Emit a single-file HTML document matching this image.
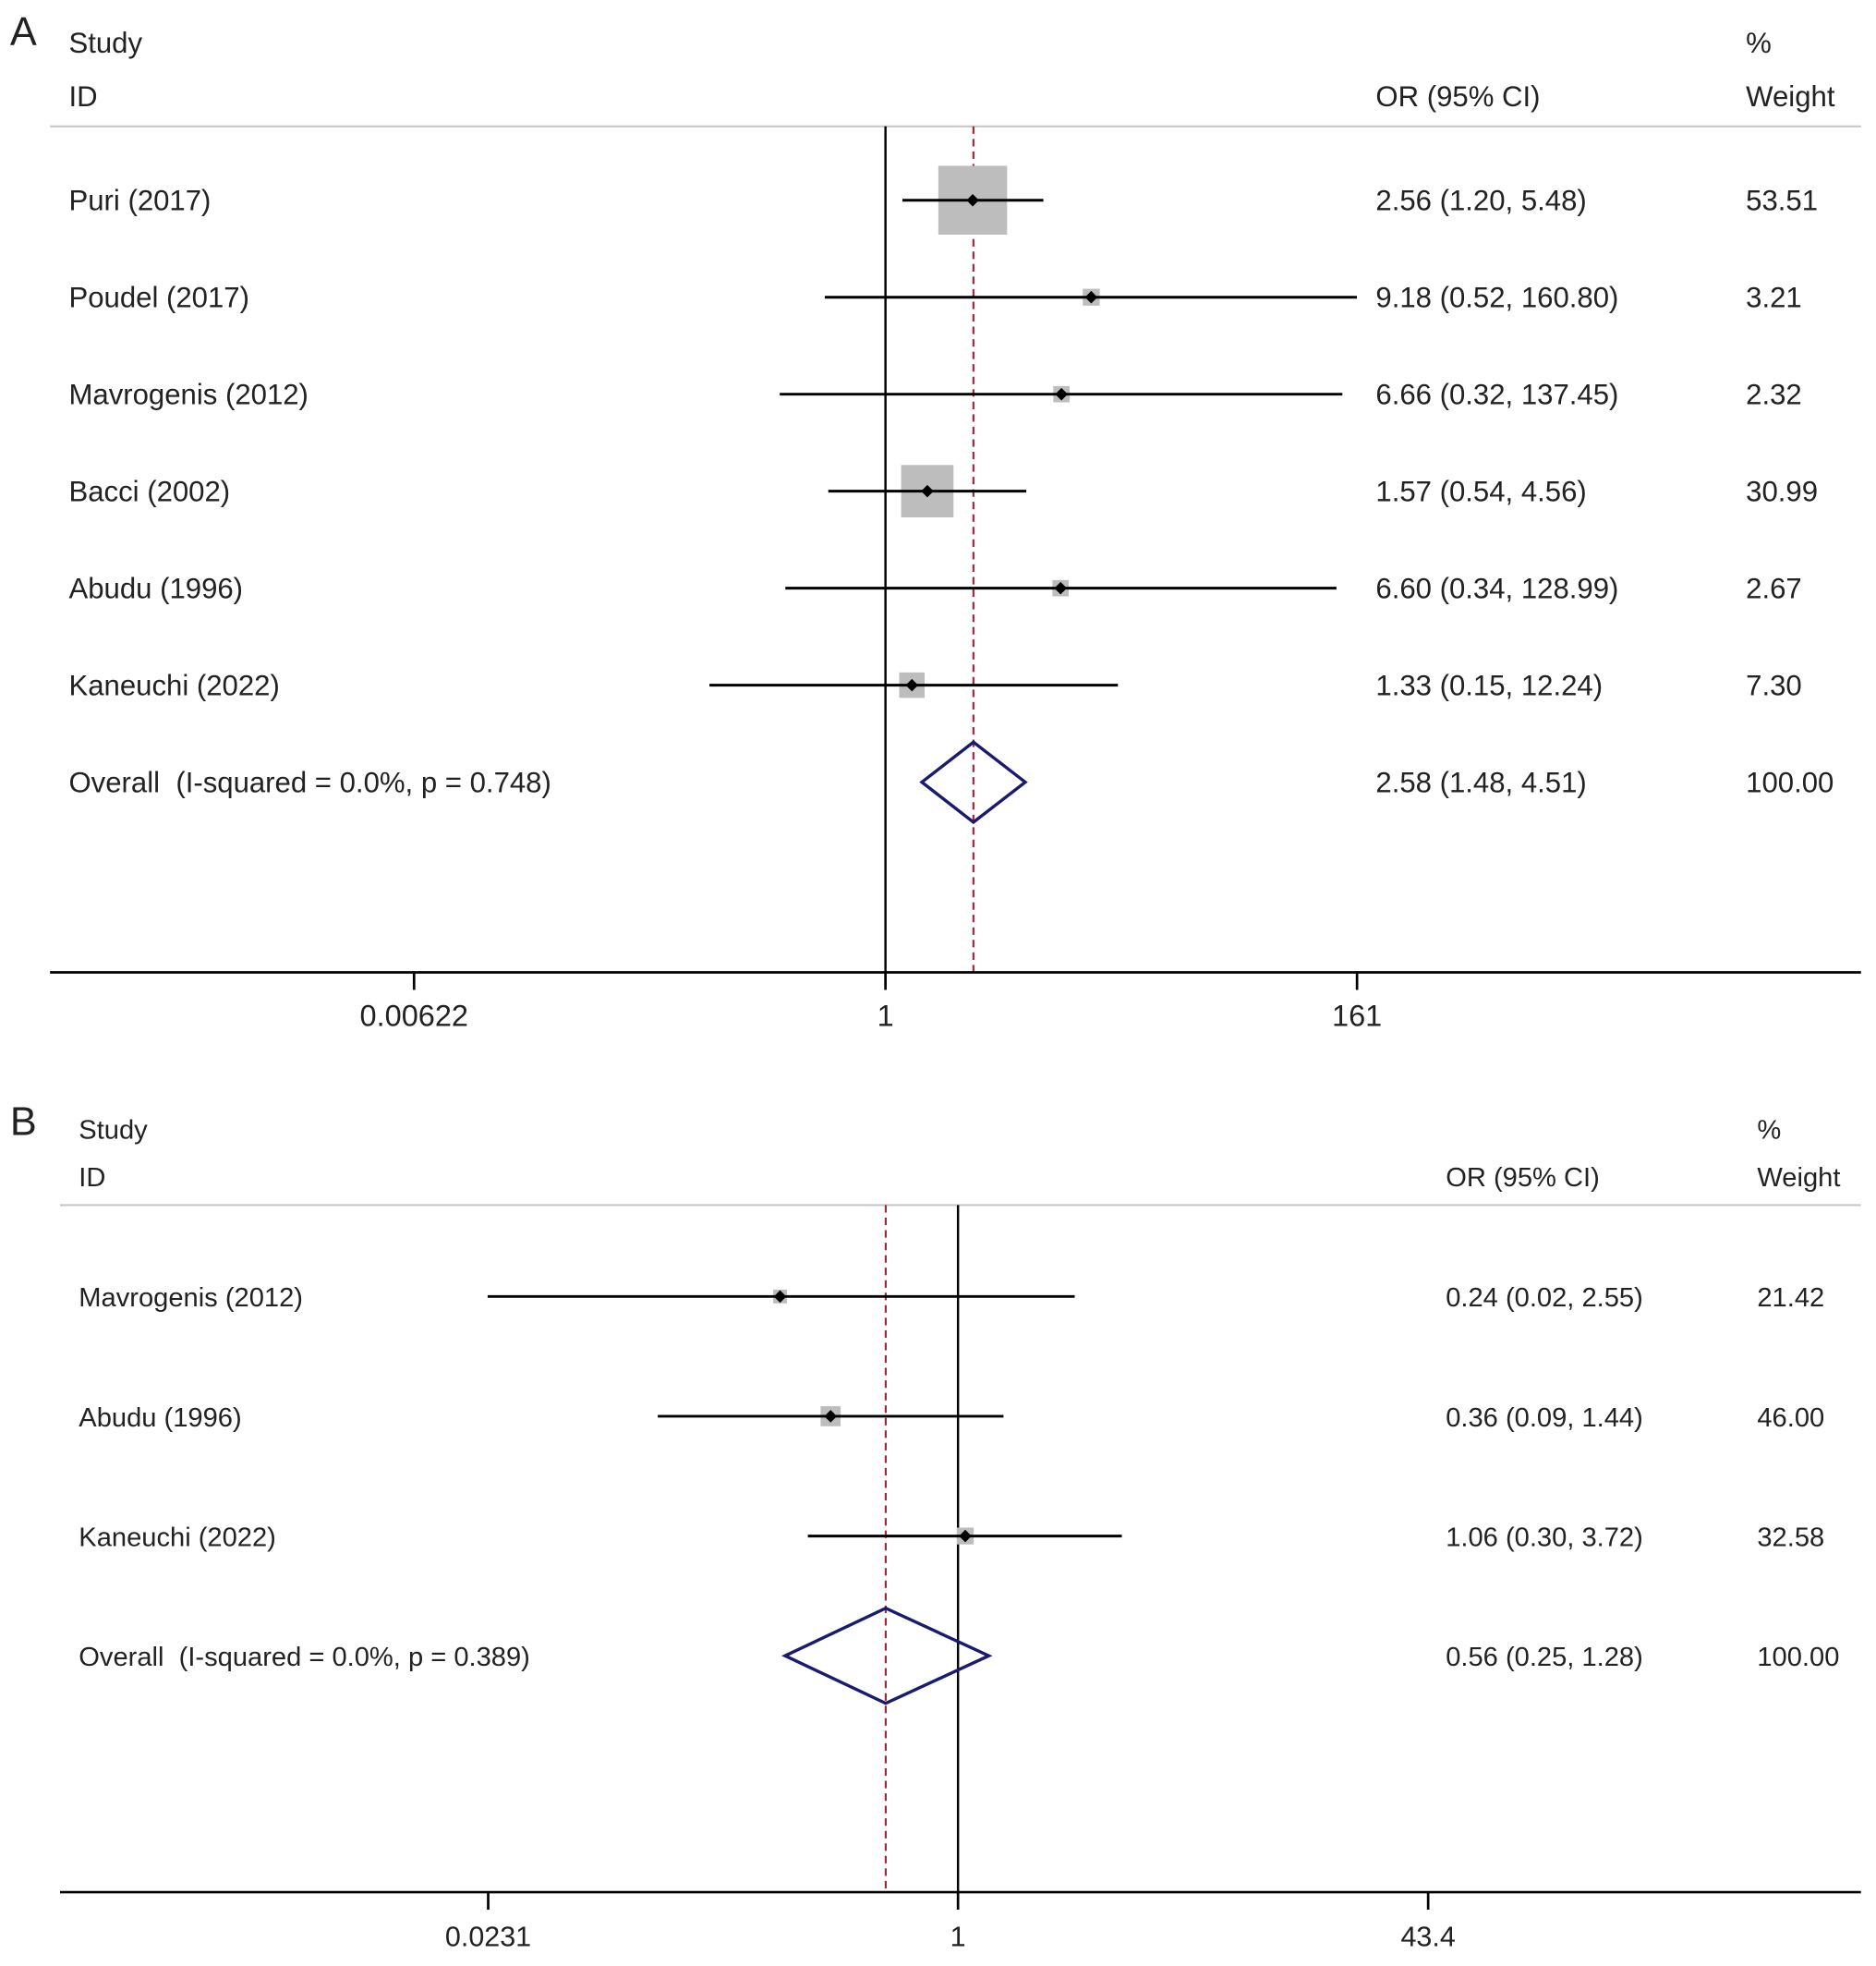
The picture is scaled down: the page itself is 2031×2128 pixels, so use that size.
<!DOCTYPE html>
<html><head><meta charset="utf-8"><style>
html,body{margin:0;padding:0;background:#fff}
svg{display:block}
text{font-family:"Liberation Sans",sans-serif;fill:#222}
</style></head><body>
<svg id="chart" width="2031" height="2128" viewBox="0 0 1500 1571" preserveAspectRatio="none" xmlns="http://www.w3.org/2000/svg"></svg>
<script>
// Panel A data
const studiesA = ["Puri (2017)","Poudel (2017)","Mavrogenis (2012)","Bacci (2002)","Abudu (1996)","Kaneuchi (2022)"];
const orA = [2.56,9.18,6.66,1.57,6.60,1.33];
const lowA = [1.20,0.52,0.32,0.54,0.34,0.15];
const highA = [5.48,160.80,137.45,4.56,128.99,12.24];
const weightA = [53.51,3.21,2.32,30.99,2.67,7.30];
const overallA = [2.58,1.48,4.51];
const overallLabelA = "Overall\u00a0\u00a0(I-squared = 0.0%, p = 0.748)";
const ticksA = [0.00622,1,161];
const tickLabelsA = ["0.00622","1","161"];
// Panel B data
const studiesB = ["Mavrogenis (2012)","Abudu (1996)","Kaneuchi (2022)"];
const orB = [0.24,0.36,1.06];
const lowB = [0.023,0.09,0.30];
const highB = [2.55,1.44,3.72];
const weightB = [21.42,46.00,32.58];
const overallB = [0.56,0.25,1.28];
const overallLabelB = "Overall\u00a0\u00a0(I-squared = 0.0%, p = 0.389)";
const ticksB = [0.0231,1,43.4];
const tickLabelsB = ["0.0231","1","43.4"];

const svg = document.getElementById('chart');
const NS = "http://www.w3.org/2000/svg";
function el(tag, attrs, txt){const e=document.createElementNS(NS,tag);for(const k in attrs)e.setAttribute(k,attrs[k]);if(txt!==undefined)e.textContent=txt;svg.appendChild(e);return e;}
const fmt=v=>v.toFixed(2);

function panel(cfg){
  const x = v => cfg.x1 + Math.log(v)*cfg.pxPerLn;
  let t;
  t=el('text',{x:cfg.letterX,y:cfg.letterY,'font-size':32},cfg.letter);
  
  
  const hs=cfg.fs;
  t=el('text',{x:cfg.labelX,y:cfg.studyY,'font-size':hs},"Study");
  t=el('text',{x:cfg.labelX,y:cfg.idY,'font-size':hs},"ID");
  t=el('text',{x:cfg.orX,y:cfg.idY,'font-size':hs},"OR (95% CI)");
  t=el('text',{x:cfg.wX,y:cfg.studyY,'font-size':hs},"%");
  t=el('text',{x:cfg.wX,y:cfg.idY,'font-size':hs},"Weight");
  let l=el('line',{x1:cfg.axL,x2:cfg.axR,y1:cfg.hdrLine,y2:cfg.hdrLine,stroke:'#c8c8c8','stroke-width':1.5});
  
  l=el('line',{x1:x(1),x2:x(1),y1:cfg.hdrLine,y2:cfg.axY,stroke:'#000','stroke-width':1.8});
  
  l=el('line',{x1:x(cfg.ov[0]),x2:x(cfg.ov[0]),y1:cfg.hdrLine,y2:cfg.axY,stroke:'#a0283c','stroke-width':1.6,'stroke-dasharray':'6,4'});
  
  cfg.studies.forEach((s,i)=>{
    const y=cfg.rowY0+i*cfg.rowH;
    let side=Math.max(cfg.minBox,cfg.boxK*Math.sqrt(cfg.w[i]));
    let r=el('rect',{x:x(cfg.or[i])-side/2,y:y-side/2,width:side,height:side,fill:'#bdbdbd'});
    
    let c=el('line',{x1:x(cfg.lo[i]),x2:x(cfg.hi[i]),y1:y,y2:y,stroke:'#000','stroke-width':2.2});
    
    const px=x(cfg.or[i]);
    let d=el('polygon',{points:`${px-5},${y} ${px},${y-5} ${px+5},${y} ${px},${y+5}`,fill:'#000'});
    
    let a=el('text',{x:cfg.labelX,y:y+8,'font-size':cfg.fs},s);
    a=el('text',{x:cfg.orX,y:y+8,'font-size':cfg.fs},`${fmt(cfg.or[i])} (${fmt(cfg.lo[i])}, ${fmt(cfg.hi[i])})`);
    a=el('text',{x:cfg.wX,y:y+8,'font-size':cfg.fs},fmt(cfg.w[i]));
  });
  const oy=cfg.rowY0+cfg.studies.length*cfg.rowH;
  let dm=el('polygon',{points:`${x(cfg.ov[1])},${oy} ${x(cfg.ov[0])},${oy-cfg.dh} ${x(cfg.ov[2])},${oy} ${x(cfg.ov[0])},${oy+cfg.dh}`,fill:'none',stroke:'#1a1a6e','stroke-width':2.5});
  
  let a=el('text',{x:cfg.labelX,y:oy+8,'font-size':cfg.fs},cfg.ovLabel);
  a=el('text',{x:cfg.orX,y:oy+8,'font-size':cfg.fs},`${fmt(cfg.ov[0])} (${fmt(cfg.ov[1])}, ${fmt(cfg.ov[2])})`);
  a=el('text',{x:cfg.wX,y:oy+8,'font-size':cfg.fs},"100.00");
  l=el('line',{x1:cfg.axL,x2:cfg.axR,y1:cfg.axY,y2:cfg.axY,stroke:'#000','stroke-width':2});
  
  cfg.ticks.forEach((tv,i)=>{
    let tk=el('line',{x1:x(tv),x2:x(tv),y1:cfg.axY,y2:cfg.axY+14,stroke:'#000','stroke-width':2});
    
    let tl=el('text',{x:x(tv),y:cfg.axY+43,'font-size':cfg.fs+1,'text-anchor':'middle'},cfg.tickLabels[i]);
    
  });
}
panel({letter:'A',letterX:8,letterY:36,labelX:55,orX:1100,wX:1396,studyY:42,idY:85,hdrLine:101,
  x1:708,pxPerLn:74.2,axY:777,axL:40,axR:1488,rowY0:160,rowH:77.5,fs:23,boxK:7.52,minBox:13,dh:32,
  studies:studiesA,or:orA,lo:lowA,hi:highA,w:weightA,ov:overallA,ovLabel:overallLabelA,ticks:ticksA,tickLabels:tickLabelsA});
panel({letter:'B',letterX:8,letterY:907,labelX:63,orX:1156,wX:1405,studyY:910,idY:948,hdrLine:963,
  x1:766,pxPerLn:99.7,axY:1512,axL:48,axR:1488,rowY0:1036,rowH:95.7,fs:21.5,boxK:2.36,minBox:11,dh:38,
  studies:studiesB,or:orB,lo:lowB,hi:highB,w:weightB,ov:overallB,ovLabel:overallLabelB,ticks:ticksB,tickLabels:tickLabelsB});
</script>
</body></html>
